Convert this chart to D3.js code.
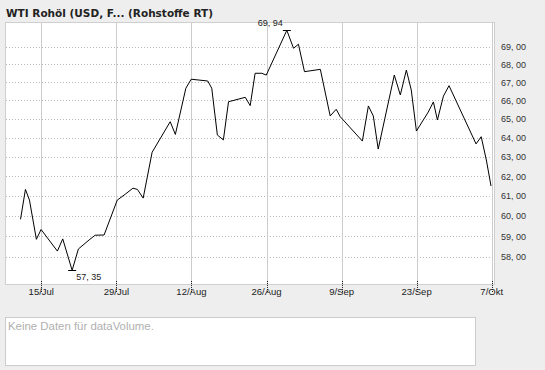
<!DOCTYPE html>
<html><head><meta charset="utf-8">
<script src="https://cdn.jsdelivr.net/npm/d3@7"></script>
<style>
html,body{margin:0;padding:0;background:#eeeeee;}
svg{display:block;}
text{font-family:"Liberation Sans",Arial,sans-serif;}
</style></head>
<body>
<script>
// ---- data ----
const dates = [
"2019-07-11 03:00","2019-07-12 01:00","2019-07-12 19:00","2019-07-14 02:00","2019-07-14 23:00",
"2019-07-18 00:00","2019-07-19 00:00","2019-07-20 18:00","2019-07-21 22:00","2019-07-23 22:00",
"2019-07-25 01:00","2019-07-26 17:00","2019-07-29 04:00","2019-07-30 15:00","2019-08-01 02:00",
"2019-08-01 22:00","2019-08-03 00:00","2019-08-04 16:00","2019-08-08 01:00","2019-08-09 00:00",
"2019-08-10 23:00","2019-08-11 23:00","2019-08-15 01:00","2019-08-15 19:00","2019-08-16 20:00",
"2019-08-17 23:00","2019-08-18 22:00","2019-08-22 01:00","2019-08-22 23:00","2019-08-23 21:00",
"2019-08-25 03:00","2019-08-25 23:00","2019-08-29 19:00","2019-08-31 01:00","2019-08-31 23:00",
"2019-09-02 02:00","2019-09-05 01:00","2019-09-06 21:00","2019-09-08 00:00","2019-09-08 18:00",
"2019-09-12 21:00","2019-09-14 00:00","2019-09-14 22:00","2019-09-15 20:00","2019-09-18 20:00",
"2019-09-19 23:00","2019-09-21 02:00","2019-09-22 00:00","2019-09-22 23:00","2019-09-25 04:00",
"2019-09-26 03:00","2019-09-26 21:00","2019-09-28 00:00","2019-09-29 01:00","2019-10-04 02:00",
"2019-10-05 01:00","2019-10-06 00:00","2019-10-06 21:00"];
const prices = [
59.82,61.32,60.78,58.84,59.32,
58.27,58.86,57.35,58.37,58.81,
59.04,59.05,60.78,61.07,61.38,
61.32,60.88,63.23,64.85,64.17,
66.67,67.17,67.07,66.67,64.14,
63.88,65.93,66.17,65.72,67.50,
67.50,67.40,69.94,68.91,69.14,
67.59,67.72,65.16,65.52,65.12,
63.82,65.70,65.16,63.40,67.40,
66.30,67.68,66.57,64.35,65.37,
65.92,64.94,66.24,66.81,63.67,
64.05,62.83,61.49];
const xTickDates = ["2019-07-15","2019-07-29","2019-08-12","2019-08-26","2019-09-09","2019-09-23","2019-10-07"];
const xTickLabels = ["15/Jul","29/Jul","12/Aug","26/Aug","9/Sep","23/Sep","7/Okt"];
const yTicks = [58,59,60,61,62,63,64,65,66,67,68,69];
const title = "WTI Rohöl (USD, F... (Rohstoffe RT)";
const volumeMsg = "Keine Daten für dataVolume.";

// ---- layout ----
const W = 545, H = 370;
const plot = {x0:5, x1:495, y0:22, y1:284};
const parseDT = d3.timeParse("%Y-%m-%d %H:%M");
const parseD = d3.timeParse("%Y-%m-%d");
const data = dates.map((d,i)=>({date:parseDT(d), v:prices[i]}));
const tickDates = xTickDates.map(parseD);

const x = d3.scaleTime().domain([tickDates[0], tickDates[tickDates.length-1]]).range([41.3, 491.7]);
const y = d3.scaleLog().domain([58, 69]).range([256.7, 46.7]);

const svg = d3.select("body").append("svg").attr("width", W).attr("height", H);
svg.append("rect").attr("width",W).attr("height",H).attr("fill","#eeeeee");

function fit(sel, target){
  const w = sel.node().getComputedTextLength();
  const fs = parseFloat(sel.style("font-size"));
  sel.style("font-size", (fs*target/w)+"px");
}

const t = svg.append("text").attr("x",6).attr("y",16.5).text(title)
  .style("font-weight","bold").style("font-size","12px").attr("fill","#222")
  .style("font-family","'DejaVu Sans',Verdana,sans-serif");
fit(t, 207);

// plot frame
svg.append("rect").attr("x",plot.x0+0.5).attr("y",plot.y0+0.5)
  .attr("width",plot.x1-plot.x0-1).attr("height",plot.y1-plot.y0)
  .attr("fill","#fff").attr("stroke","#cfcfcf");

// horizontal dotted gridlines
svg.append("g").selectAll("line").data(yTicks).join("line")
  .attr("x1",plot.x0+1).attr("x2",491)
  .attr("y1",d=>Math.round(y(d))+0.5).attr("y2",d=>Math.round(y(d))+0.5)
  .attr("stroke","#b8b8b8").attr("stroke-dasharray","1,2");

// vertical gridlines
svg.append("g").selectAll("line").data(tickDates).join("line")
  .attr("x1",d=>Math.round(x(d))+0.5).attr("x2",d=>Math.round(x(d))+0.5)
  .attr("y1",plot.y0+1).attr("y2",plot.y1)
  .attr("stroke","#cccccc");
// tick marks
svg.append("g").selectAll("line").data(tickDates).join("line")
  .attr("x1",d=>Math.round(x(d))+0.5).attr("x2",d=>Math.round(x(d))+0.5)
  .attr("y1",plot.y1-3).attr("y2",plot.y1+9)
  .attr("stroke","#222").attr("stroke-dasharray","1,1");

// x labels
svg.append("g").selectAll("text").data(tickDates).join("text")
  .attr("x",d=>x(d)).attr("y",295).attr("text-anchor","middle")
  .style("font-size","9.5px").attr("fill","#222")
  .text((d,i)=>xTickLabels[i]);

// y labels
const fmt = v => d3.format(".2f")(v).replace(".", ", ");
svg.append("g").selectAll("text").data(yTicks).join("text")
  .attr("x",501).attr("y",d=>y(d)+3.5)
  .style("font-size","9px").attr("fill","#333")
  .text(fmt);

// line
svg.append("clipPath").attr("id","clip").append("rect")
  .attr("x",plot.x0).attr("y",plot.y0).attr("width",plot.x1-plot.x0).attr("height",plot.y1-plot.y0);
svg.append("path").datum(data)
  .attr("fill","none").attr("stroke","#000").attr("stroke-width",1)
  .attr("clip-path","url(#clip)")
  .attr("d", d3.line().x(d=>x(d.date)).y(d=>y(d.v)));

// min / max markers
const maxD = data.reduce((a,b)=>b.v>a.v?b:a);
const minD = data.reduce((a,b)=>b.v<a.v?b:a);
[maxD,minD].forEach(d=>{
  svg.append("line").attr("x1",x(d.date)-4).attr("x2",x(d.date)+4)
    .attr("y1",Math.round(y(d.v))+0.5).attr("y2",Math.round(y(d.v))+0.5)
    .attr("stroke","#000");
});
svg.append("text").attr("x",x(maxD.date)-4).attr("y",y(maxD.v)-4)
  .attr("text-anchor","end").style("font-size","9px").attr("fill","#222").text(fmt(maxD.v));
svg.append("text").attr("x",x(minD.date)+4).attr("y",y(minD.v)+10)
  .style("font-size","9px").attr("fill","#222").text(fmt(minD.v));

// volume panel
svg.append("rect").attr("x",5.5).attr("y",317.5).attr("width",470).attr("height",48)
  .attr("fill","#fff").attr("stroke","#cccccc");
const vt = svg.append("text").attr("x",8).attr("y",329.5).text(volumeMsg)
  .style("font-size","10px").attr("fill","#b0b0b0");
fit(vt, 146);
</script>
</body></html>
